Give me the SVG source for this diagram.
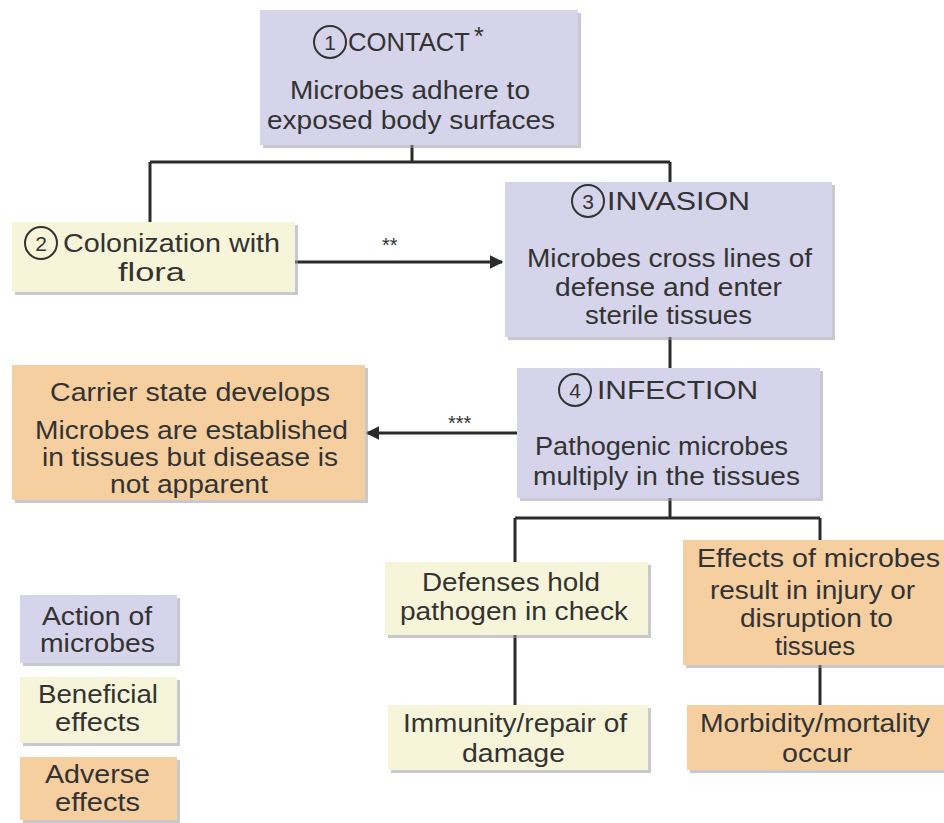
<svg xmlns="http://www.w3.org/2000/svg" width="944" height="823" viewBox="0 0 944 823">
<style>
.shadow{fill:#9d9ba6;opacity:0.55}
.lav{fill:#d6d4ea}
.yel{fill:#f7f5d9}
.org{fill:#f5cfa0}
text{font-family:"Liberation Sans",Arial,sans-serif;font-size:25px;fill:#333333}
.num{font-size:21px;text-anchor:middle}
.ring{fill:none;stroke:#333333;stroke-width:2}
.ln{stroke:#2b2b2b;stroke-width:3;fill:none}
.star{font-size:20px}
</style>
<defs>
<marker id="ah" viewBox="0 0 10 10" refX="9" refY="5" markerWidth="4.5" markerHeight="4.5" orient="auto" markerUnits="strokeWidth">
<path d="M0,0 L10,5 L0,10 z" fill="#2b2b2b"/>
</marker>
</defs>
<rect width="944" height="823" fill="#ffffff"/>

<g id="connectors">
<path class="ln" d="M412,145 V162 M150,162 H670 M150,162 V222 M670,162 V182"/>
<path class="ln" d="M295,262 H502" marker-end="url(#ah)"/>
<text class="star" x="382" y="252">**</text>
<path class="ln" d="M517,433 H367" marker-end="url(#ah)"/>
<text class="star" x="448" y="430">***</text>
<path class="ln" d="M670,337 V368"/>
<path class="ln" d="M670,498 V518 M515,518 H820 M515,518 V562 M820,518 V540"/>
<path class="ln" d="M515,635 V705 M820,665 V705"/>
</g>

<g id="contact">
<rect class="shadow" x="263" y="13" width="318" height="135"/>
<rect class="lav" x="260" y="10" width="318" height="135"/>
<circle class="ring" cx="330" cy="42" r="16"/>
<text class="num" x="330" y="50">1</text>
<text x="348" y="51" textLength="122" lengthAdjust="spacingAndGlyphs">CONTACT</text>
<text x="474" y="45" font-size="18">*</text>
<text x="290" y="99" textLength="240" lengthAdjust="spacingAndGlyphs">Microbes adhere to</text>
<text x="267" y="129" textLength="288" lengthAdjust="spacingAndGlyphs">exposed body surfaces</text>
</g>

<g id="colonization">
<rect class="shadow" x="15" y="225" width="283" height="70"/>
<rect class="yel" x="12" y="222" width="283" height="70"/>
<circle class="ring" cx="41" cy="243" r="16"/>
<text class="num" x="41" y="251">2</text>
<text x="63" y="252" textLength="217" lengthAdjust="spacingAndGlyphs">Colonization with</text>
<text x="118" y="281" textLength="67" lengthAdjust="spacingAndGlyphs">flora</text>
</g>

<g id="invasion">
<rect class="shadow" x="508" y="185" width="327" height="155"/>
<rect class="lav" x="505" y="182" width="327" height="155"/>
<circle class="ring" cx="588" cy="201" r="16"/>
<text class="num" x="588" y="209">3</text>
<text x="607" y="210" textLength="143" lengthAdjust="spacingAndGlyphs">INVASION</text>
<text x="527" y="267" textLength="285" lengthAdjust="spacingAndGlyphs">Microbes cross lines of</text>
<text x="555" y="296" textLength="227" lengthAdjust="spacingAndGlyphs">defense and enter</text>
<text x="585" y="324" textLength="167" lengthAdjust="spacingAndGlyphs">sterile tissues</text>
</g>

<g id="carrier">
<rect class="shadow" x="15" y="368" width="353" height="135"/>
<rect class="org" x="12" y="365" width="353" height="135"/>
<text x="50" y="401" textLength="280" lengthAdjust="spacingAndGlyphs">Carrier state develops</text>
<text x="35" y="439" textLength="313" lengthAdjust="spacingAndGlyphs">Microbes are established</text>
<text x="42" y="466" textLength="296" lengthAdjust="spacingAndGlyphs">in tissues but disease is</text>
<text x="110" y="493" textLength="158" lengthAdjust="spacingAndGlyphs">not apparent</text>
</g>

<g id="infection">
<rect class="shadow" x="520" y="371" width="303" height="130"/>
<rect class="lav" x="517" y="368" width="303" height="130"/>
<circle class="ring" cx="575" cy="390" r="16"/>
<text class="num" x="575" y="398">4</text>
<text x="597" y="399" textLength="161" lengthAdjust="spacingAndGlyphs">INFECTION</text>
<text x="535" y="455" textLength="253" lengthAdjust="spacingAndGlyphs">Pathogenic microbes</text>
<text x="533" y="485" textLength="267" lengthAdjust="spacingAndGlyphs">multiply in the tissues</text>
</g>

<g id="defenses">
<rect class="shadow" x="388" y="565" width="263" height="73"/>
<rect class="yel" x="385" y="562" width="263" height="73"/>
<text x="422" y="591" textLength="178" lengthAdjust="spacingAndGlyphs">Defenses hold</text>
<text x="400" y="620" textLength="228" lengthAdjust="spacingAndGlyphs">pathogen in check</text>
</g>

<g id="effects">
<rect class="shadow" x="686" y="543" width="261" height="125"/>
<rect class="org" x="683" y="540" width="261" height="125"/>
<text x="697" y="567" textLength="243" lengthAdjust="spacingAndGlyphs">Effects of microbes</text>
<text x="710" y="599" textLength="205" lengthAdjust="spacingAndGlyphs">result in injury or</text>
<text x="740" y="627" textLength="153" lengthAdjust="spacingAndGlyphs">disruption to</text>
<text x="775" y="655" textLength="80" lengthAdjust="spacingAndGlyphs">tissues</text>
</g>

<g id="immunity">
<rect class="shadow" x="391" y="708" width="260" height="65"/>
<rect class="yel" x="388" y="705" width="260" height="65"/>
<text x="403" y="732" textLength="224" lengthAdjust="spacingAndGlyphs">Immunity/repair of</text>
<text x="462" y="762" textLength="103" lengthAdjust="spacingAndGlyphs">damage</text>
</g>

<g id="morbidity">
<rect class="shadow" x="690" y="708" width="257" height="65"/>
<rect class="org" x="687" y="705" width="257" height="65"/>
<text x="700" y="732" textLength="230" lengthAdjust="spacingAndGlyphs">Morbidity/mortality</text>
<text x="782" y="762" textLength="70" lengthAdjust="spacingAndGlyphs">occur</text>
</g>

<g id="legend-action">
<rect class="shadow" x="23" y="598" width="157" height="68"/>
<rect class="lav" x="20" y="595" width="157" height="68"/>
<text x="42" y="625" textLength="110" lengthAdjust="spacingAndGlyphs">Action of</text>
<text x="40" y="652" textLength="115" lengthAdjust="spacingAndGlyphs">microbes</text>
</g>

<g id="legend-beneficial">
<rect class="shadow" x="23" y="680" width="157" height="66"/>
<rect class="yel" x="20" y="677" width="157" height="66"/>
<text x="38" y="703" textLength="120" lengthAdjust="spacingAndGlyphs">Beneficial</text>
<text x="55" y="731" textLength="85" lengthAdjust="spacingAndGlyphs">effects</text>
</g>

<g id="legend-adverse">
<rect class="shadow" x="23" y="760" width="157" height="63"/>
<rect class="org" x="20" y="757" width="157" height="63"/>
<text x="45" y="783" textLength="105" lengthAdjust="spacingAndGlyphs">Adverse</text>
<text x="55" y="811" textLength="85" lengthAdjust="spacingAndGlyphs">effects</text>
</g>
</svg>
